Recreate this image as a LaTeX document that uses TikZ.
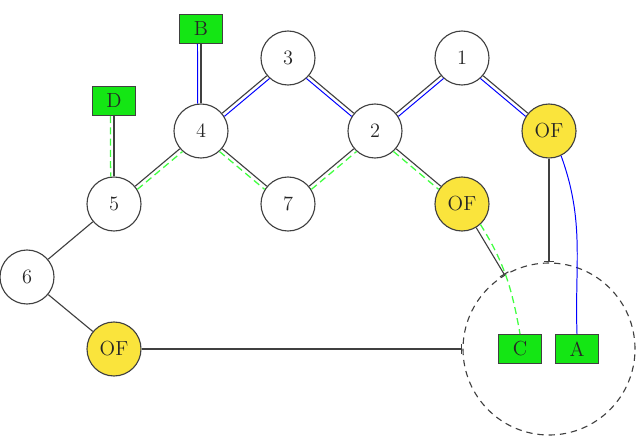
\documentclass[tikz,border=0pt]{standalone}
\usepackage{tikz}
\usetikzlibrary{arrows.meta,calc}
\colorlet{linkGray}{black!75}
\definecolor{ofYellow}{RGB}{250,228,60}
\definecolor{hostGreen}{RGB}{20,230,20}
\colorlet{pathGreen}{green!75!white}

\begin{document}
\begin{tikzpicture}[every node/.style={font=\fontsize{14.5}{17}\selectfont, text=black!85},
    router/.style={draw=linkGray, circle, line width=0.8pt, minimum size=1.35cm, inner sep=0pt},
    oflow/.style={router, fill=ofYellow},
    host/.style={draw=linkGray, fill=hostGreen, line width=0.8pt, minimum width=1.075cm, minimum height=0.725cm, inner sep=0pt},
    link/.style={draw=linkGray, line width=0.8pt},
    barlink/.style={link, -{Bar[width=7pt]}},
    bluepath/.style={draw=blue, line width=0.7pt},
    greenpath/.style={draw=pathGreen, line width=0.9pt, dash pattern=on 5pt off 3pt}]
        \useasboundingbox (0,0) rectangle (16,11.075);

        % Routers
        \node[router] (n3) at (7.2,9.625) {3};
        \node[router] (n1) at (11.55,9.625) {1};
        \node[router] (n4) at (5.025,7.8) {4};
        \node[router] (n2) at (9.375,7.8) {2};
        \node[router] (n5) at (2.85,5.975) {5};
        \node[router] (n7) at (7.2,5.975) {7};
        \node[router] (n6) at (0.675,4.15) {6};

        % OpenFlow switches
        \node[oflow] (of1) at (13.725,7.8) {OF};
        \node[oflow] (of2) at (11.55,5.975) {OF};
        \node[oflow] (of3) at (2.85,2.35) {OF};

        % Controller domain
        \node[draw=linkGray, circle, line width=0.8pt, dash pattern=on 4.5pt off 3.5pt, minimum size=4.3cm] (ring) at (13.725,2.35) {};

        % Hosts
        \node[host] (hB) at (5.025,10.35) {B};
        \node[host] (hD) at (2.85,8.55) {D};
        \node[host] (hC) at (13.0,2.35) {C};
        \node[host] (hA) at (14.425,2.35) {A};

        % Links
        \draw[link] (hB) -- (n4);
        \draw[link] (hD) -- (n5);
        \draw[link] (n5) -- (n4);
        \draw[link] (n4) -- (n3);
        \draw[link] (n4) -- (n7);
        \draw[link] (n7) -- (n2);
        \draw[link] (n3) -- (n2);
        \draw[link] (n2) -- (n1);
        \draw[link] (n1) -- (of1);
        \draw[link] (n2) -- (of2);
        \draw[link] (n5) -- (n6);
        \draw[link] (n6) -- (of3);
        \draw[barlink] (of1) -- (ring);
        \draw[barlink] (of2) -- (ring);
        \draw[barlink] (of3) -- (ring);

        % Path B -> A
        \draw[bluepath] ([xshift=-2.5pt]hB.south) -- (n4.97);
        \draw[bluepath] (n4.32) -- (n3.228);
        \draw[bluepath] (n3.312) -- (n2.148);
        \draw[bluepath] (n2.32) -- (n1.228);
        \draw[bluepath] (n1.312) -- (of1.148);
        \draw[bluepath] (of1.-64) to[out=-70, in=92] (hA.north);

        % Path D -> C
        \draw[greenpath] ([xshift=-2.5pt]hD.south) -- (n5.97);
        \draw[greenpath] (n5.32) -- (n4.228);
        \draw[greenpath] (n4.312) -- (n7.148);
        \draw[greenpath] (n7.32) -- (n2.228);
        \draw[greenpath] (n2.312) -- (of2.148);
        \draw[greenpath] (of2.-48) to[out=-58, in=100] (hC.north);
    \end{tikzpicture}
\end{document}
